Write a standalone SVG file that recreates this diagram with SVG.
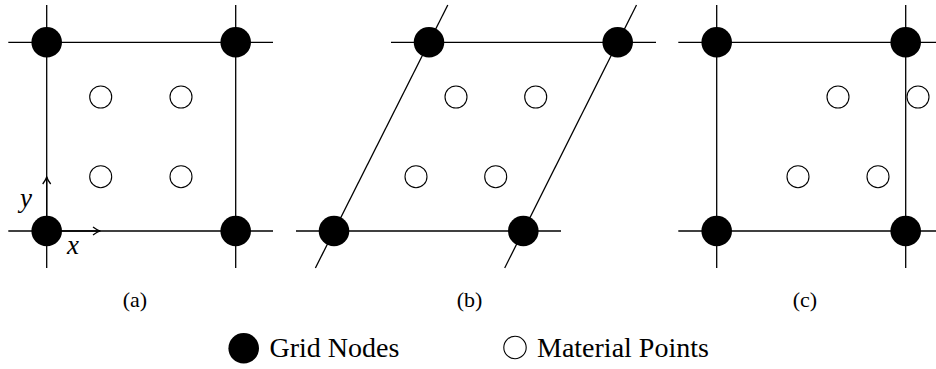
<svg xmlns="http://www.w3.org/2000/svg" width="936" height="369" viewBox="0 0 936 369">
<style>
.ln{stroke:#000;stroke-width:1.3;fill:none}
.gn{fill:#000}
.mp{fill:#fff;stroke:#000;stroke-width:1.1}
.lbl{font-size:22px;fill:#000;text-anchor:middle}
.leg{font-size:28px;fill:#000}
.ax{font-style:italic;font-size:27px;fill:#000}
</style>
<defs>
<marker id="arr" viewBox="0 0 10 10" refX="9" refY="5" markerWidth="10" markerHeight="10" markerUnits="userSpaceOnUse" orient="auto">
<path d="M2,1 Q6,4 9,5 Q6,6 2,9" fill="none" stroke="#000" stroke-width="1.3"/>
</marker>
</defs>
<g id="connectors">
<line class="ln" x1="8.3" y1="42.3" x2="273" y2="42.3"/>
<line class="ln" x1="8.3" y1="231" x2="273" y2="231"/>
<line class="ln" x1="46.7" y1="5" x2="46.7" y2="268"/>
<line class="ln" x1="235.7" y1="5" x2="235.7" y2="268"/>
<line class="ln" x1="391" y1="42.3" x2="656" y2="42.3"/>
<line class="ln" x1="296" y1="231" x2="561" y2="231"/>
<line class="ln" x1="315.4" y1="268" x2="447.8" y2="5"/>
<line class="ln" x1="504.7" y1="268" x2="636.5" y2="5"/>
<line class="ln" x1="678.3" y1="42.3" x2="943" y2="42.3"/>
<line class="ln" x1="678.3" y1="231" x2="943" y2="231"/>
<line class="ln" x1="716.7" y1="5" x2="716.7" y2="268"/>
<line class="ln" x1="905.7" y1="5" x2="905.7" y2="268"/>
<line class="ln" x1="46.7" y1="231" x2="46.7" y2="177" marker-end="url(#arr)" stroke-width="1.6"/>
<line class="ln" x1="46.7" y1="231" x2="100" y2="231" marker-end="url(#arr)" stroke-width="1.6"/>
</g>
<g id="panel-a" font-family="Liberation Serif, DejaVu Serif, serif">
<circle class="gn" cx="46.7" cy="42.3" r="15.3"/>
<circle class="gn" cx="235.7" cy="42.3" r="15.3"/>
<circle class="gn" cx="46.7" cy="231" r="15.3"/>
<circle class="gn" cx="235.7" cy="231" r="15.3"/>
<circle class="mp" cx="100.7" cy="97" r="11"/>
<circle class="mp" cx="181" cy="97" r="11"/>
<circle class="mp" cx="100.7" cy="176.7" r="11"/>
<circle class="mp" cx="181" cy="176.7" r="11"/>
<text class="ax" x="20" y="207">y</text>
<text class="ax" x="67" y="254">x</text>
<text class="lbl" x="135" y="306.5">(a)</text>
</g>
<g id="panel-b" font-family="Liberation Serif, DejaVu Serif, serif">
<circle class="gn" cx="429" cy="42.3" r="15.3"/>
<circle class="gn" cx="617.7" cy="42.3" r="15.3"/>
<circle class="gn" cx="334" cy="231" r="15.3"/>
<circle class="gn" cx="523.3" cy="231" r="15.3"/>
<circle class="mp" cx="456" cy="97" r="11"/>
<circle class="mp" cx="535.7" cy="97" r="11"/>
<circle class="mp" cx="416" cy="176.7" r="11"/>
<circle class="mp" cx="495.7" cy="176.7" r="11"/>
<text class="lbl" x="469.5" y="306.5">(b)</text>
</g>
<g id="panel-c" font-family="Liberation Serif, DejaVu Serif, serif">
<circle class="gn" cx="716.7" cy="42.3" r="15.3"/>
<circle class="gn" cx="905.7" cy="42.3" r="15.3"/>
<circle class="gn" cx="716.7" cy="231" r="15.3"/>
<circle class="gn" cx="905.7" cy="231" r="15.3"/>
<circle class="mp" cx="838" cy="97" r="11"/>
<circle class="mp" cx="918" cy="97" r="11"/>
<circle class="mp" cx="798" cy="176.7" r="11"/>
<circle class="mp" cx="878" cy="176.7" r="11"/>
<text class="lbl" x="805" y="306.5">(c)</text>
</g>
<g id="legend" font-family="Liberation Serif, DejaVu Serif, serif">
<circle class="gn" cx="243.7" cy="348.3" r="15.3"/>
<text class="leg" x="269.5" y="357">Grid Nodes</text>
<circle class="mp" cx="515" cy="347.5" r="11.2"/>
<text class="leg" x="537" y="357">Material Points</text>
</g>
</svg>
